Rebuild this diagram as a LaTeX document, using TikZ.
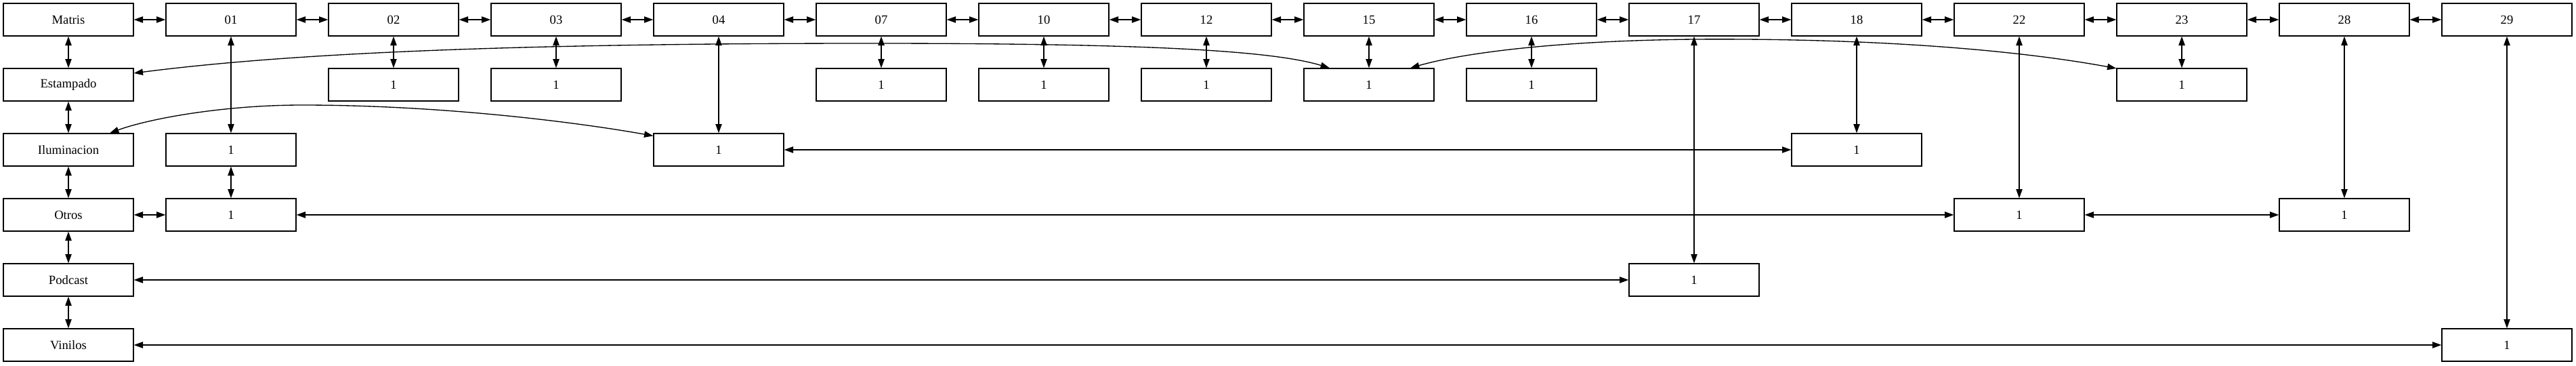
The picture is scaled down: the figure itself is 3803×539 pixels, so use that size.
\documentclass[tikz,border=0pt]{standalone}
\usepackage{fontspec}
\setmainfont{Liberation Serif}
\usetikzlibrary{arrows.meta}
\tikzset{
  box/.style={draw, line width=1pt, minimum width=144pt, minimum height=36pt, inner sep=0pt, font=\fontsize{14}{16}\selectfont},
  link/.style={line width=1pt, {Triangle[length=10pt,width=7pt]}-{Triangle[length=10pt,width=7pt]}}
}
\begin{document}
\begin{tikzpicture}[x=0.75pt,y=-0.75pt]
\useasboundingbox (0,0) rectangle (3803,539);
% top row
\node[box] (m)   at (101,29)  {Matris};
\node[box] (c01) at (341,29)  {01};
\node[box] (c02) at (581,29)  {02};
\node[box] (c03) at (821,29)  {03};
\node[box] (c04) at (1061,29) {04};
\node[box] (c07) at (1301,29) {07};
\node[box] (c10) at (1541,29) {10};
\node[box] (c12) at (1781,29) {12};
\node[box] (c15) at (2021,29) {15};
\node[box] (c16) at (2261,29) {16};
\node[box] (c17) at (2501,29) {17};
\node[box] (c18) at (2741,29) {18};
\node[box] (c22) at (2981,29) {22};
\node[box] (c23) at (3221,29) {23};
\node[box] (c28) at (3461,29) {28};
\node[box] (c29) at (3701,29) {29};
% left column
\node[box] (est) at (101,125) {Estampado};
\node[box] (ilu) at (101,221) {Iluminacion};
\node[box] (otr) at (101,317) {Otros};
\node[box] (pod) at (101,413) {Podcast};
\node[box] (vin) at (101,509) {Vinilos};
% row 1
\node[box] (a02) at (581,125)  {1};
\node[box] (a03) at (821,125)  {1};
\node[box] (a07) at (1301,125) {1};
\node[box] (a10) at (1541,125) {1};
\node[box] (a12) at (1781,125) {1};
\node[box] (a15) at (2021,125) {1};
\node[box] (a16) at (2261,125) {1};
\node[box] (a23) at (3221,125) {1};
% row 2
\node[box] (b01) at (341,221)  {1};
\node[box] (b04) at (1061,221) {1};
\node[box] (b18) at (2741,221) {1};
% row 3
\node[box] (d01) at (341,317)  {1};
\node[box] (d22) at (2981,317) {1};
\node[box] (d28) at (3461,317) {1};
% row 4
\node[box] (e17) at (2501,413) {1};
% row 5
\node[box] (f29) at (3701,509) {1};
% top chain
\draw[link] (m) -- (c01);
\draw[link] (c01) -- (c02);
\draw[link] (c02) -- (c03);
\draw[link] (c03) -- (c04);
\draw[link] (c04) -- (c07);
\draw[link] (c07) -- (c10);
\draw[link] (c10) -- (c12);
\draw[link] (c12) -- (c15);
\draw[link] (c15) -- (c16);
\draw[link] (c16) -- (c17);
\draw[link] (c17) -- (c18);
\draw[link] (c18) -- (c22);
\draw[link] (c22) -- (c23);
\draw[link] (c23) -- (c28);
\draw[link] (c28) -- (c29);
% left chain
\draw[link] (m) -- (est);
\draw[link] (est) -- (ilu);
\draw[link] (ilu) -- (otr);
\draw[link] (otr) -- (pod);
\draw[link] (pod) -- (vin);
% verticals
\draw[link] (c02) -- (a02);
\draw[link] (c03) -- (a03);
\draw[link] (c07) -- (a07);
\draw[link] (c10) -- (a10);
\draw[link] (c12) -- (a12);
\draw[link] (c15) -- (a15);
\draw[link] (c16) -- (a16);
\draw[link] (c23) -- (a23);
\draw[link] (c01) -- (b01);
\draw[link] (b01) -- (d01);
\draw[link] (c04) -- (b04);
\draw[link] (c18) -- (b18);
\draw[link] (c22) -- (d22);
\draw[link] (c28) -- (d28);
\draw[link] (c17) -- (e17);
\draw[link] (c29) -- (f29);
% horizontals
\draw[link] (b04) -- (b18);
\draw[link] (otr) -- (d01);
\draw[link] (d01) -- (d22);
\draw[link] (d22) -- (d28);
\draw[link] (pod) -- (e17);
\draw[link] (vin) -- (f29);
% curves
\draw[link] (est.10) .. controls (400,82) and (700,64) .. (1283,64)
  .. controls (1650,64) and (1870,72) .. (a15.157.5);
\draw[link] (a15.22.5) .. controls (2160,78) and (2300,60) .. (2501,58)
  .. controls (2800,56) and (3000,78) .. (a23.166);
\draw[link] (ilu.22) .. controls (220,175) and (330,155) .. (446,155)
  .. controls (650,155) and (850,180) .. (b04.168);
\end{tikzpicture}
\end{document}
